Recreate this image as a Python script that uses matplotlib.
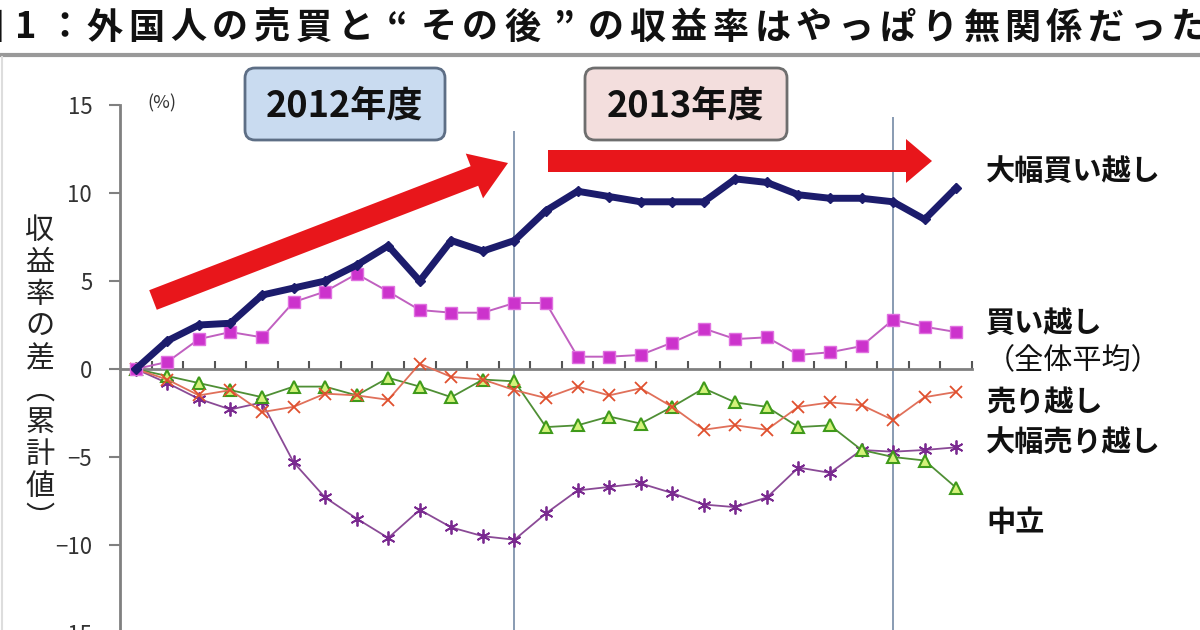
import matplotlib
matplotlib.use("Agg")
import matplotlib.pyplot as plt
import matplotlib.transforms as mtransforms
from matplotlib.patches import FancyArrow, FancyBboxPatch
import numpy as np

plt.rcParams['font.family'] = ['Noto Sans CJK JP', 'DejaVu Sans']

# 累計値 (%) 27 months
months = list(range(27))
big_buy = [0, 1.6, 2.5, 2.6, 4.2, 4.6, 5.0, 5.9, 7.0, 5.0, 7.3, 6.7, 7.3, 9.0, 10.1,
           9.8, 9.5, 9.5, 9.5, 10.8, 10.6, 9.9, 9.7, 9.7, 9.5, 8.5, 10.3]
buy = [0, 0.4, 1.7, 2.1, 1.8, 3.8, 4.4, 5.4, 4.4, 3.35, 3.2, 3.2, 3.75, 3.75, 0.7,
       0.7, 0.8, 1.5, 2.3, 1.7, 1.8, 0.8, 0.95, 1.3, 2.8, 2.4, 2.1]
sell = [0, -0.6, -1.5, -1.2, -2.45, -2.15, -1.4, -1.5, -1.75, 0.3, -0.45, -0.6, -1.2,
        -1.65, -1.0, -1.5, -1.1, -2.15, -3.45, -3.2, -3.45, -2.15, -1.9, -2.05, -2.9, -1.6, -1.3]
green_s = [0, -0.4, -0.8, -1.2, -1.6, -1.0, -1.0, -1.5, -0.5, -1.0, -1.6, -0.6, -0.7,
           -3.3, -3.2, -2.7, -3.1, -2.15, -1.1, -1.9, -2.15, -3.3, -3.2, -4.6, -5.0, -5.2, -6.75]
purple_s = [0, -0.8, -1.7, -2.3, -1.9, -5.3, -7.3, -8.5, -9.6, -8.0, -9.0, -9.5, -9.7,
            -8.2, -6.9, -6.7, -6.5, -7.05, -7.7, -7.85, -7.3, -5.6, -5.9, -4.6, -4.7, -4.6, -4.45]
year_marks = [12, 24]
yticks = [-15, -10, -5, 0, 5, 10, 15]
title = '図1：外国人の売買と“その後”の収益率はやっぱり無関係だった'

W, H = 1200, 630
fig = plt.figure(figsize=(12, 6.3), dpi=100)
# pixel coords, y from top
px = mtransforms.Affine2D().scale(1 / W, -1 / H).translate(0, 1) + fig.transFigure

ax = fig.add_axes([120 / W, 1 - 633 / H, (972 - 120) / W, (633 - 105) / H])
ax.set_xlim(-0.5, 26.5)
ax.set_ylim(-15, 15)

ax.vlines(year_marks[0], -15, 13.5, color='#7f93ad', lw=1.3, zorder=1)
ax.vlines(year_marks[1], -15, 14.3, color='#7f93ad', lw=1.3, zorder=1)

ax.plot(months, purple_s, color='#8a4a96', lw=1.3, marker=(6, 2, 0), ms=10,
        mec='#7a2a90', mew=1.3, zorder=3)
ax.plot(months, green_s, color='#4f8f35', lw=1.3, marker='^', ms=8,
        mfc='#d4f27a', mec='#3f9a1a', mew=1.5, zorder=3)
ax.plot(months, sell, color='#e0705a', lw=1.3, marker='x', ms=9,
        mec='#e0502e', mew=1.3, zorder=4)
ax.plot(months, buy, color='#c060c0', lw=1.4, marker='s', ms=9,
        mfc='#cc33cc', mec='#e070e0', mew=1, zorder=5)
ax.plot(months, big_buy, color='#1c1c6c', lw=5, marker='D', ms=5,
        solid_joinstyle='miter', zorder=6)

for s in ['top', 'right']:
    ax.spines[s].set_visible(False)
ax.spines['bottom'].set_position(('data', 0))
ax.spines['left'].set_color('#808080')
ax.spines['bottom'].set_color('#808080')
ax.spines['left'].set_linewidth(2)
ax.spines['bottom'].set_linewidth(2)
ax.set_yticks(yticks)
ax.set_yticklabels(['\u221215', '\u221210', '\u22125', '0', '5', '10', '15'])
ax.tick_params(axis='y', direction='out', length=8, width=1.5, color='#808080',
               labelsize=16, labelcolor='#333333', pad=12)
ax.set_xticks(np.arange(0.5, 27, 1))
ax.set_xticklabels([])
ax.tick_params(axis='x', direction='in', length=6, width=1.5, color='#555555')
ax.patch.set_alpha(0)

# title, monospaced-looking, placed glyph by glyph
title_x = [-15, 26, 64] + [105 + 41.7 * k for k in range(27)]
for ch, x in zip(title, title_x):
    fig.text(x, 28, ch, transform=px, fontsize=26, fontweight='bold',
             va='center', ha='center', color='#111111')
fig.add_artist(plt.Line2D([0, W], [55, 55], transform=px, color='#999999', lw=3))
fig.add_artist(plt.Line2D([2, 2], [57, H], transform=px, color='#dddddd', lw=1.5))

fig.text(147, 103, '(%)', transform=px, fontsize=13, va='center', ha='left', color='#333333')

# y label, vertical writing
ylab = ['収', '益', '率', 'の', '差', '︵', '累', '計', '値', '︶']
for k, ch in enumerate(ylab):
    fig.text(40, 231 + 32 * k, ch, transform=px, fontsize=21, ha='center', va='center',
             color='#222222')

# year boxes
for x0, x1, lab, fc, ec in [(245, 445, '2012年度', '#c9dbf0', '#5d6e85'),
                            (585, 787, '2013年度', '#f3dedd', '#6e6e6e')]:
    box = FancyBboxPatch((x0, 68), x1 - x0, 72, boxstyle='round,pad=0,rounding_size=10',
                         transform=px, fc=fc, ec=ec, lw=2)
    fig.add_artist(box)
    fig.text((x0 + x1) / 2, 106, lab, transform=px, fontsize=26, fontweight='bold',
             ha='center', va='center', color='#111111')

# red arrows
fig.add_artist(FancyArrow(153, 300, 355, -137, width=21, head_width=48, head_length=36,
                          length_includes_head=True, transform=px, color='#e8161b', lw=0))
fig.add_artist(FancyArrow(548, 161, 384, 0, width=22, head_width=44, head_length=26,
                          length_includes_head=True, transform=px, color='#e8161b', lw=0))

# series labels
labels = [(171, '大幅買い越し', 'bold'), (323, '買い越し', 'bold'), (361, '（全体平均）', 'normal'),
          (402, '売り越し', 'bold'), (442, '大幅売り越し', 'bold'), (522, '中立', 'bold')]
for y, t, w in labels:
    fig.text(986, y, t, transform=px, fontsize=21, fontweight=w, ha='left', va='center',
             color='#111111')

fig.savefig('out.png', dpi=100, facecolor='white')
